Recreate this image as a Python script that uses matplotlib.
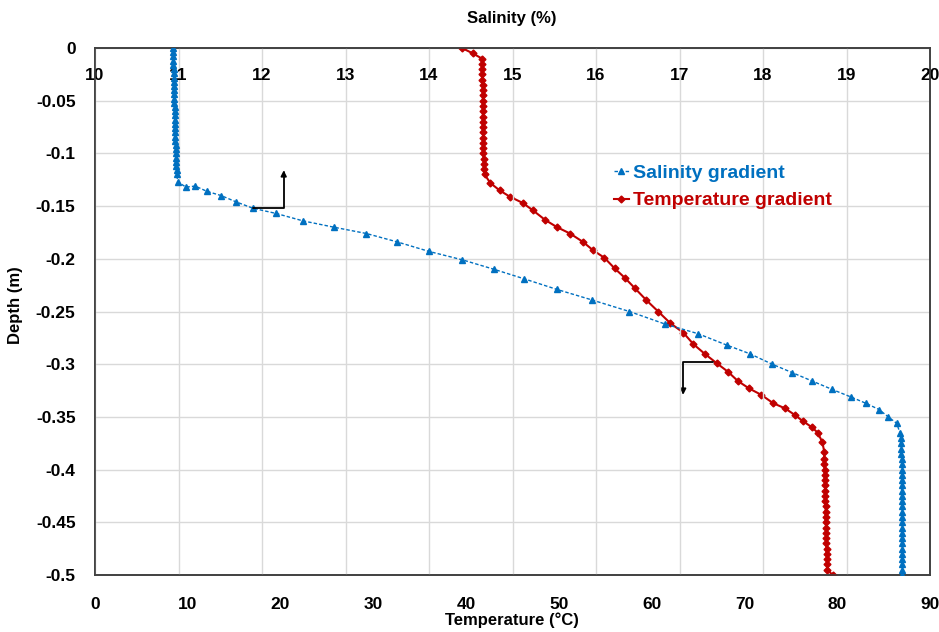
import matplotlib
matplotlib.use("Agg")
import matplotlib.pyplot as plt

plt.rcParams['font.family'] = ['Liberation Sans', 'DejaVu Sans']
plt.rcParams['font.weight'] = 'bold'

# ---------------- data ----------------
sal_depth = [0, -0.004, -0.008, -0.012, -0.016, -0.02, -0.024, -0.028, -0.032, -0.036,
             -0.04, -0.044, -0.048, -0.052, -0.056, -0.06, -0.064, -0.068, -0.072, -0.076,
             -0.08, -0.084, -0.088, -0.092, -0.096, -0.1, -0.104, -0.108, -0.112, -0.116,
             -0.12, -0.127, -0.132, -0.131, -0.136, -0.140, -0.146, -0.152, -0.157, -0.164,
             -0.170, -0.176, -0.184, -0.193, -0.201, -0.210, -0.219, -0.229, -0.239, -0.250,
             -0.262, -0.271, -0.282, -0.290, -0.300, -0.308, -0.316, -0.324, -0.331, -0.337,
             -0.343, -0.350, -0.356, -0.365, -0.37, -0.375, -0.38, -0.385, -0.39, -0.395,
             -0.4, -0.405, -0.41, -0.415, -0.42, -0.425, -0.43, -0.435, -0.44, -0.445,
             -0.45, -0.455, -0.46, -0.465, -0.47, -0.475, -0.48, -0.485, -0.49, -0.495, -0.5]
salinity = [10.94, 10.94, 10.94, 10.94, 10.94, 10.95, 10.95, 10.95, 10.95, 10.95,
            10.95, 10.95, 10.95, 10.95, 10.96, 10.96, 10.96, 10.96, 10.96, 10.96,
            10.96, 10.96, 10.96, 10.97, 10.97, 10.97, 10.97, 10.97, 10.97, 10.98,
            10.98, 10.99, 11.09, 11.20, 11.34, 11.51, 11.69, 11.89, 12.17, 12.49,
            12.86, 13.25, 13.62, 14.00, 14.40, 14.78, 15.14, 15.53, 15.95, 16.40,
            16.83, 17.22, 17.57, 17.84, 18.11, 18.35, 18.59, 18.83, 19.05, 19.23,
            19.39, 19.50, 19.60, 19.64, 19.65, 19.65, 19.65, 19.65, 19.66, 19.66,
            19.66, 19.66, 19.66, 19.66, 19.66, 19.66, 19.66, 19.67, 19.67, 19.67,
            19.67, 19.67, 19.67, 19.67, 19.67, 19.67, 19.67, 19.67, 19.67, 19.67, 19.66]

temp_depth = [0, -0.005, -0.01, -0.015, -0.02, -0.025, -0.03, -0.035, -0.04, -0.045,
              -0.05, -0.055, -0.06, -0.065, -0.07, -0.075, -0.08, -0.085, -0.09, -0.095,
              -0.1, -0.105, -0.11, -0.115, -0.12, -0.128, -0.135, -0.141, -0.147, -0.154,
              -0.163, -0.170, -0.176, -0.184, -0.192, -0.199, -0.209, -0.218, -0.228, -0.239,
              -0.250, -0.261, -0.270, -0.281, -0.290, -0.299, -0.307, -0.316, -0.323, -0.329,
              -0.337, -0.342, -0.348, -0.354, -0.360, -0.365, -0.374, -0.383, -0.39, -0.395,
              -0.4, -0.405, -0.41, -0.415, -0.42, -0.425, -0.43, -0.435, -0.44, -0.445,
              -0.45, -0.455, -0.46, -0.465, -0.47, -0.475, -0.48, -0.485, -0.49, -0.495, -0.5]
temperature = [39.55, 40.7, 41.7, 41.75, 41.75, 41.75, 41.75, 41.8, 41.8, 41.8,
               41.8, 41.8, 41.8, 41.8, 41.8, 41.8, 41.8, 41.85, 41.85, 41.85,
               41.85, 41.9, 41.9, 41.95, 42.0, 42.6, 43.6, 44.7, 46.1, 47.2,
               48.5, 49.8, 51.2, 52.6, 53.7, 54.9, 56.0, 57.1, 58.2, 59.4,
               60.7, 62.0, 63.4, 64.5, 65.7, 67.0, 68.2, 69.3, 70.5, 71.8,
               73.1, 74.4, 75.4, 76.3, 77.3, 77.9, 78.4, 78.6, 78.6, 78.6,
               78.65, 78.65, 78.65, 78.7, 78.7, 78.7, 78.7, 78.75, 78.75, 78.75,
               78.75, 78.8, 78.8, 78.8, 78.8, 78.85, 78.85, 78.9, 78.9, 78.95, 79.5]

depth_ticks = [0, -0.05, -0.1, -0.15, -0.2, -0.25, -0.3, -0.35, -0.4, -0.45, -0.5]
depth_labels = ['0', '-0.05', '-0.1', '-0.15', '-0.2', '-0.25', '-0.3', '-0.35', '-0.4', '-0.45', '-0.5']
temp_ticks = [0, 10, 20, 30, 40, 50, 60, 70, 80, 90]
sal_ticks = [10, 11, 12, 13, 14, 15, 16, 17, 18, 19, 20]

BLUE = '#0070C0'
RED = '#C00000'

W, H = 939, 632
fig = plt.figure(figsize=(W / 100, H / 100), dpi=100)
ax = fig.add_axes([95 / W, 1 - 575 / H, (930 - 95) / W, (575 - 48) / H])
ax2 = ax.twiny()

ax.set_xlim(0, 90)
ax.set_ylim(-0.5, 0)
ax2.set_xlim(10, 20)
ax2.set_ylim(-0.5, 0)

ax.set_yticks(depth_ticks)
ax.set_yticklabels(depth_labels)
ax.set_xticks(temp_ticks)
ax2.set_xticks(sal_ticks)
ax.yaxis.grid(True, color='#d9d9d9', lw=1)
ax2.xaxis.grid(True, color='#d9d9d9', lw=1)
ax.set_axisbelow(True)
ax2.set_axisbelow(True)

ax.tick_params(axis='y', length=0, pad=14, labelsize=12.5)
ax.tick_params(axis='x', length=0, pad=16, labelsize=12.5)
ax2.tick_params(axis='x', length=0, pad=-25, labelsize=12.5)
for lab in ax.get_xticklabels() + ax.get_yticklabels() + ax2.get_xticklabels():
    lab.set_fontweight('bold')

for a in (ax, ax2):
    for s in a.spines.values():
        s.set_color('#404040')
        s.set_linewidth(1.2)

l1, = ax2.plot(salinity, sal_depth, color=BLUE, lw=1, ls=(0, (2.5, 1.5)),
               marker='^', ms=5, label='Salinity gradient', zorder=3)
l2, = ax.plot(temperature, temp_depth, color=RED, lw=1.5, marker='D', ms=3.5,
              label='Temperature gradient', zorder=3)

ax2.patch.set_visible(False)

leg = ax2.legend(handles=[l1, l2], loc='upper left',
                 bbox_to_anchor=(596 / W, 1 - 147 / H), bbox_transform=fig.transFigure,
                 frameon=False, handlelength=0.8, handletextpad=0.2, labelspacing=0.5,
                 prop={'size': 14, 'weight': 'bold'}, labelcolor='linecolor')

# L-shaped arrows indicating which axis each curve reads
ax2.annotate('', xy=(12.26, -0.116), xytext=(11.89, -0.152),
             arrowprops=dict(arrowstyle='-|>', color='black', lw=1.3, mutation_scale=8,
                             shrinkA=0, shrinkB=0,
                             connectionstyle='angle,angleA=0,angleB=90,rad=0'))
ax.annotate('', xy=(63.4, -0.329), xytext=(66.6, -0.298),
            arrowprops=dict(arrowstyle='-|>', color='black', lw=1.3, mutation_scale=8,
                            shrinkA=0, shrinkB=0,
                            connectionstyle='angle,angleA=180,angleB=-90,rad=0'))

fig.text(512 / W, 1 - 18 / H, 'Salinity (%)', ha='center', va='center',
         fontsize=12, fontweight='bold')
fig.text(512 / W, 1 - 620 / H, 'Temperature (°C)', ha='center', va='center',
         fontsize=12, fontweight='bold')
fig.text(16 / W, 1 - 305 / H, 'Depth (m)', ha='center', va='center', rotation=90,
         fontsize=12, fontweight='bold')

fig.savefig('out.png', dpi=100)
